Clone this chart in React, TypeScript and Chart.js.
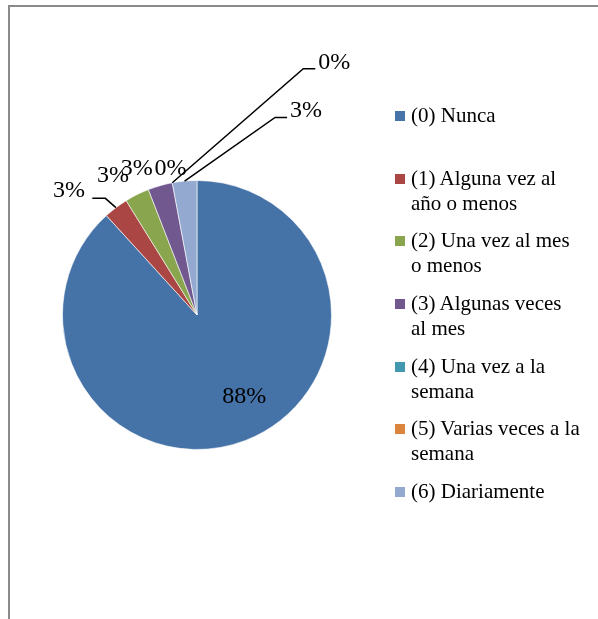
import React, { useEffect, useRef } from "react";
import { Chart, registerables } from "chart.js";

Chart.register(...registerables);

const categories: string[][] = [
  ["(0) Nunca"],
  ["(1) Alguna vez al", "año o menos"],
  ["(2) Una vez al mes", "o menos"],
  ["(3) Algunas veces", "al mes"],
  ["(4) Una vez a la", "semana"],
  ["(5) Varias veces a la", "semana"],
  ["(6) Diariamente"],
];
const counts = [30, 1, 1, 1, 0, 0, 1];
const percentLabels = ["88%", "3%", "3%", "3%", "0%", "0%", "3%"];
const colors = ["#4572A7", "#AA4643", "#89A54E", "#71588F", "#4198AF", "#DB843D", "#93A9CF"];

const FONT = "'Liberation Serif', 'Times New Roman', serif";

// label placement relative to each arc's outer mid-point (style only)
type Place = { dx: number; dy: number; leader?: [number, number][] };
const placements: Place[] = [
  { dx: 0, dy: 0 },
  { dx: -47, dy: -17, leader: [[-10.6, -9.3], [-23.6, -9.3]] },
  { dx: -24, dy: -19 },
  { dx: -23.5, dy: -17 },
  { dx: -1.7, dy: -14 },
  { dx: 162, dy: -120, leader: [[131, -114], [143, -114]] },
  { dx: 121.5, dy: -70.6, leader: [[90.5, -63.6], [102.5, -63.6]] },
];

const labelPlugin = {
  id: "pieLabels",
  afterDatasetsDraw(chart: any) {
    const meta = chart.getDatasetMeta(0);
    const ctx = chart.ctx;
    ctx.save();
    ctx.font = `24px ${FONT}`;
    ctx.fillStyle = "#000";
    ctx.textAlign = "center";
    ctx.textBaseline = "middle";
    ctx.strokeStyle = "#000";
    ctx.lineWidth = 1.5;
    meta.data.forEach((arc: any, i: number) => {
      const { x, y, startAngle, endAngle, outerRadius } = arc.getProps(
        ["x", "y", "startAngle", "endAngle", "outerRadius"],
        true
      );
      const mid = (startAngle + endAngle) / 2;
      if (i === 0) {
        const a = mid - (9 * Math.PI) / 180;
        const r = outerRadius * 0.7;
        ctx.fillText(percentLabels[i], x + Math.cos(a) * r, y + Math.sin(a) * r);
        return;
      }
      const ex = x + Math.cos(mid) * outerRadius;
      const ey = y + Math.sin(mid) * outerRadius;
      const p = placements[i];
      if (p.leader) {
        ctx.beginPath();
        ctx.moveTo(ex, ey);
        p.leader.forEach(([lx, ly]) => ctx.lineTo(ex + lx, ey + ly));
        ctx.stroke();
      }
      ctx.fillText(percentLabels[i], ex + p.dx, ey + p.dy);
    });
    ctx.restore();
  },
};

export default function App() {
  const ref = useRef<HTMLCanvasElement>(null);
  useEffect(() => {
    if (!ref.current) return;
    const chart = new Chart(ref.current, {
      type: "pie",
      data: {
        labels: categories.map((c) => c.join(" ")),
        datasets: [
          {
            data: counts,
            backgroundColor: colors,
            borderColor: "rgba(255,255,255,0.6)",
            borderWidth: 1,
          },
        ],
      },
      options: {
        responsive: false,
        animation: false,
        layout: { padding: { left: 62, top: 180, right: 266, bottom: 169 } },
        plugins: {
          legend: { display: false },
          tooltip: { enabled: false },
        },
      },
      plugins: [labelPlugin],
    });
    return () => chart.destroy();
  }, []);

  return (
    <div style={{ position: "fixed", left: 0, top: 0, width: 598, height: 619, background: "#fff", overflow: "hidden" }}>
      <div style={{ position: "absolute", left: 8, top: 5, width: 600, height: 620, borderLeft: "2px solid #8a8a8a", borderTop: "2px solid #8a8a8a", boxSizing: "border-box" }} />
      <canvas ref={ref} width={598} height={619} style={{ position: "absolute", left: 0, top: 0 }} />
      {categories.map((lines, i) => (
        <div
          key={i}
          style={{
            position: "absolute",
            left: 411,
            top: 103.1 + i * 62.6,
            font: `21px ${FONT}`,
            lineHeight: "25px",
            color: "#000",
            whiteSpace: "nowrap",
          }}
        >
          <div style={{ position: "absolute", left: -16, top: 8, width: 10, height: 10, background: colors[i] }} />
          {lines.map((l, j) => (
            <div key={j}>{l}</div>
          ))}
        </div>
      ))}
    </div>
  );
}
